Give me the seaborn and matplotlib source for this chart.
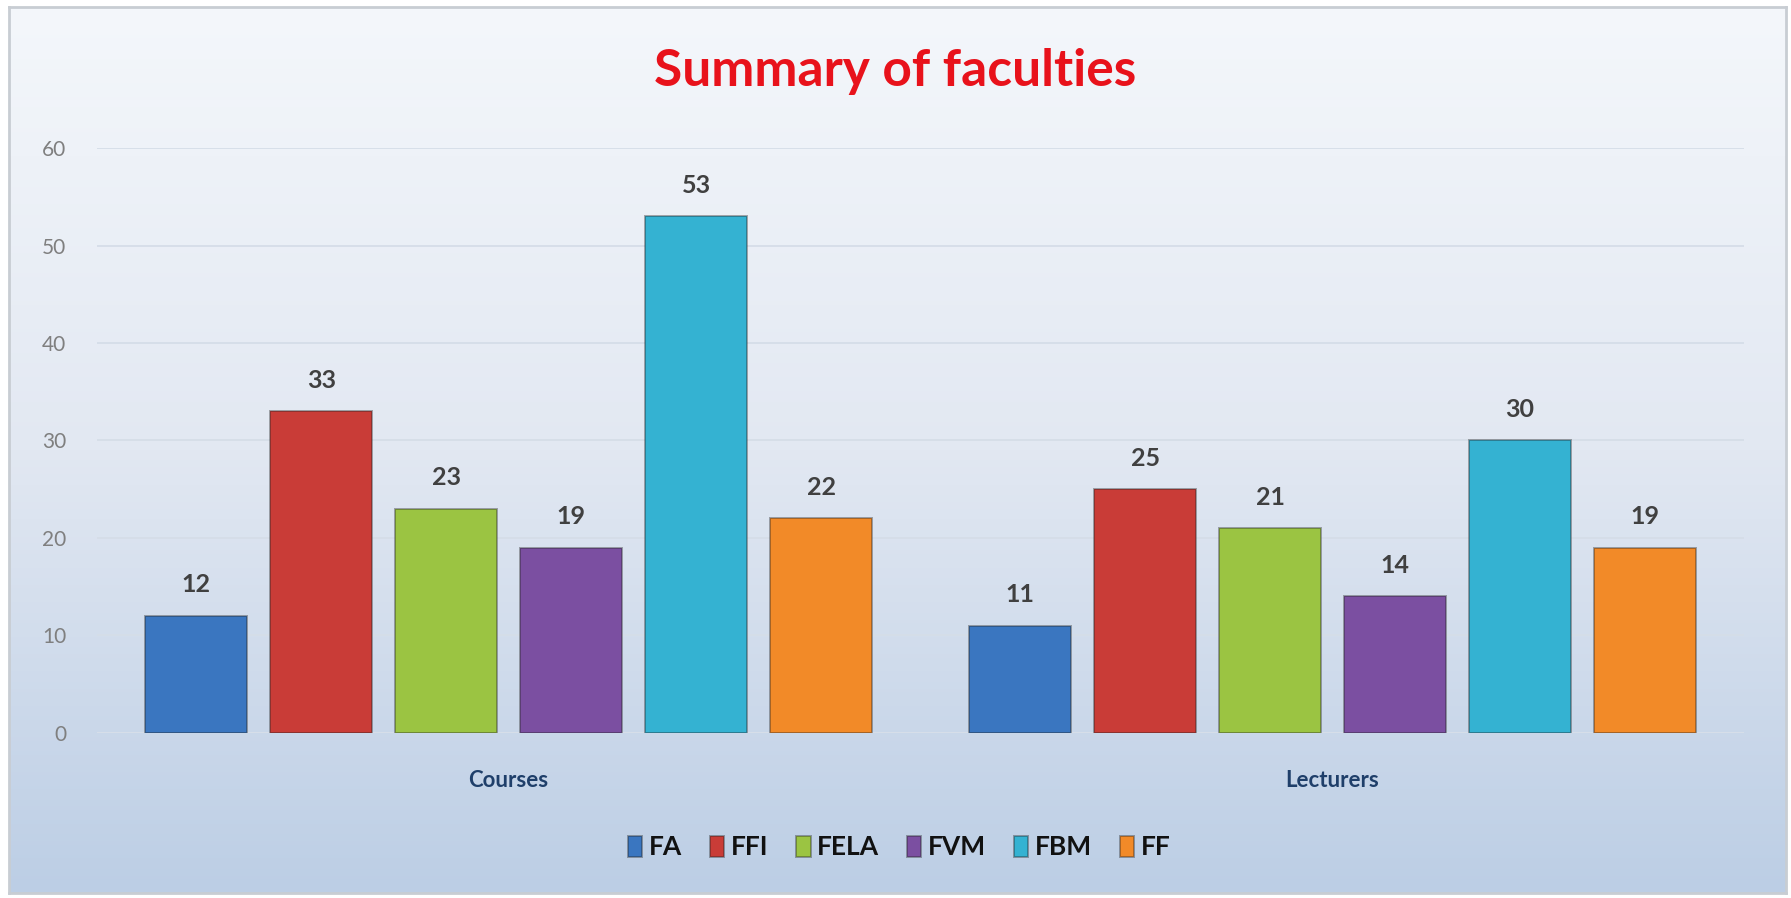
import numpy as np
import pandas as pd
import matplotlib
matplotlib.use("Agg")
import matplotlib.pyplot as plt
import seaborn as sns
from matplotlib.colors import LinearSegmentedColormap

groups = ["Courses", "Lecturers"]
faculties = ["FA", "FFI", "FELA", "FVM", "FBM", "FF"]
courses = [12, 33, 23, 19, 53, 22]
lecturers = [11, 25, 21, 14, 30, 19]
colors = ["#3a76c0", "#c93c37", "#9bc442", "#7b4fa1", "#34b2d2", "#f28a28"]
yticks = [0, 10, 20, 30, 40, 50, 60]

rows = []
for f, c, l in zip(faculties, courses, lecturers):
    rows.append({"group": "Courses", "faculty": f, "value": c})
    rows.append({"group": "Lecturers", "faculty": f, "value": l})
df = pd.DataFrame(rows)

sns.set_theme(style="white")
plt.rcParams['font.family'] = ['Lato', 'DejaVu Sans']

fig = plt.figure(figsize=(17.91, 8.98), dpi=100)

# background gradient panel
bg = fig.add_axes([0.005, 0.006, 0.992, 0.986])
cmap = LinearSegmentedColormap.from_list("bg", ["#f4f7fb", "#e2e8f2", "#bccee5"])
grad = np.linspace(0, 1, 256).reshape(-1, 1)
bg.imshow(grad, aspect="auto", cmap=cmap, extent=[0, 1, 0, 1], origin="upper")
bg.set_xticks([]); bg.set_yticks([])
for s in bg.spines.values():
    s.set_color("#c8cdd3"); s.set_linewidth(2)
bg.set_zorder(0)

ax = fig.add_axes([0.054, 0.184, 0.92, 0.651])
ax.set_zorder(1)
ax.patch.set_alpha(0)
sns.barplot(data=df, x="group", y="value", hue="faculty", order=groups,
            hue_order=faculties, palette=colors, width=0.91, gap=0.18,
            ax=ax, edgecolor="#22222260", linewidth=1.4, saturation=1)

ax.set_ylim(0, 60)
ax.set_yticks(yticks)
ax.set_yticklabels([str(t) for t in yticks], color="#7f7f7f", fontsize=15)
ax.grid(axis="y", color="#d5dde8", linewidth=1.3)
ax.set_axisbelow(True)
ax.tick_params(axis="y", length=0, pad=22)
ax.tick_params(axis="x", length=0, pad=27)
for lbl in ax.get_xticklabels():
    lbl.set_color("#1f3f6a"); lbl.set_fontsize(16); lbl.set_fontweight("bold")
ax.set_xlabel(""); ax.set_ylabel("")
for s in ax.spines.values():
    s.set_visible(False)
ax.axhline(0, color="#eef2f7", linewidth=2, zorder=0.5)

for cont in ax.containers:
    ax.bar_label(cont, padding=14, fontsize=18, fontweight="bold", color="#404040")

leg = ax.legend(loc="upper center", bbox_to_anchor=(0.487, -0.135), ncol=6,
                frameon=False, fontsize=19, handlelength=0.55, handleheight=0.85,
                handletextpad=0.25, columnspacing=1.05)
for t in leg.get_texts():
    t.set_fontweight("bold"); t.set_color("#111111")

fig.text(0.5, 0.92, "Summary of faculties", ha="center", va="center",
         fontsize=37, fontweight="bold", color="#e8121b")

fig.savefig("out.png", dpi=100)
